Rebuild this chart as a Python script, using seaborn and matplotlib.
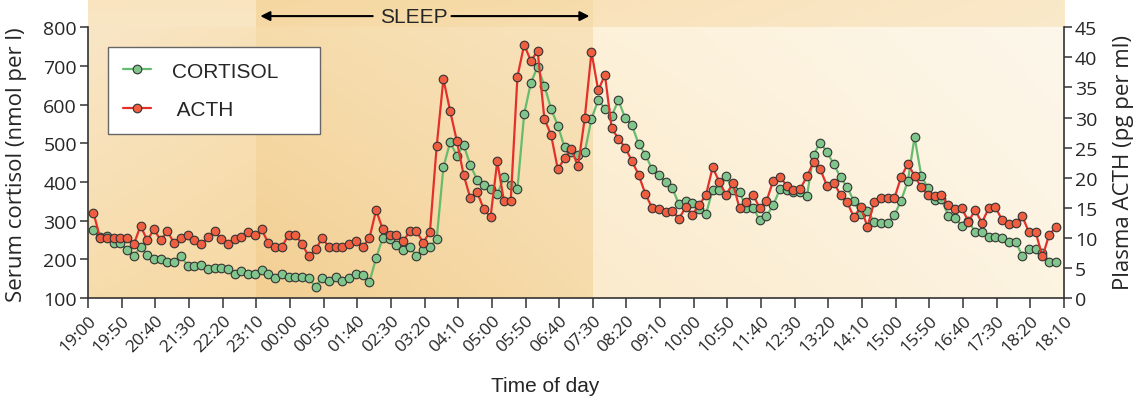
import numpy as np
import pandas as pd
import matplotlib
matplotlib.use("Agg")
import matplotlib.pyplot as plt
import seaborn as sns
from matplotlib.colors import to_rgb
from matplotlib.lines import Line2D

# samples every 10 min, minutes after 19:00
sample_min = 8 + 10 * np.arange(144)

cortisol = [277, 258, 261, 242, 241, 225, 209, 232, 212, 201,
            200, 192, 194, 209, 184, 184, 185, 175, 178, 178,
            176, 162, 171, 161, 163, 173, 163, 152, 163, 154,
            154, 154, 151, 129, 153, 144, 154, 144, 153, 162,
            160, 141, 203, 256, 252, 238, 223, 231, 209, 225,
            233, 252, 438, 503, 468, 496, 444, 406, 393, 381,
            368, 413, 392, 382, 576, 657, 698, 649, 589, 546,
            490, 477, 470, 477, 563, 612, 589, 570, 612, 565,
            547, 499, 471, 433, 419, 399, 385, 342, 352, 345,
            330, 316, 380, 380, 415, 380, 375, 332, 334, 302,
            312, 340, 382, 380, 373, 374, 363, 471, 502, 477,
            446, 412, 386, 350, 317, 326, 297, 295, 294, 314,
            352, 402, 516, 416, 384, 354, 355, 313, 308, 287,
            299, 271, 271, 259, 259, 256, 246, 246, 209, 226,
            226, 217, 194, 192]

acth = [14.2, 10.0, 10.0, 10.0, 10.0, 10.0, 8.9, 12.0, 9.6, 11.4,
        9.6, 11.1, 9.1, 10.0, 10.5, 9.7, 8.9, 10.1, 11.1, 9.8,
        8.9, 9.8, 10.1, 10.9, 10.4, 11.4, 9.1, 8.5, 8.5, 10.5,
        10.5, 9.0, 6.9, 8.1, 9.9, 8.5, 8.4, 8.4, 9.0, 9.5,
        8.5, 9.9, 14.6, 11.4, 10.5, 10.5, 9.4, 11.1, 11.1, 9.2,
        11.0, 25.2, 36.4, 31.1, 26.1, 20.5, 16.6, 17.6, 14.8, 13.4,
        22.7, 16.1, 16.1, 36.8, 42.1, 39.4, 41.1, 29.8, 27.1, 21.4,
        23.2, 24.7, 21.9, 29.9, 40.9, 34.5, 37.1, 28.2, 26.5, 25.0,
        22.8, 20.5, 17.3, 15.0, 14.8, 14.3, 14.5, 13.2, 15.1, 13.8,
        15.5, 17.1, 21.7, 19.3, 17.1, 19.1, 14.9, 16.0, 17.2, 14.9,
        16.1, 19.5, 20.1, 18.7, 18.0, 18.1, 20.2, 22.6, 21.4, 18.6,
        19.2, 17.1, 15.9, 13.4, 15.2, 11.8, 16.0, 16.6, 16.6, 16.6,
        20.1, 22.3, 20.3, 18.4, 17.1, 17.0, 17.1, 15.4, 14.8, 15.0,
        12.7, 14.6, 12.5, 14.9, 15.1, 13.0, 12.3, 12.4, 13.6, 10.9,
        10.9, 6.9, 10.5, 11.8]

tick_labels = ["19:00", "19:50", "20:40", "21:30", "22:20", "23:10", "00:00",
               "00:50", "01:40", "02:30", "03:20", "04:10", "05:00", "05:50",
               "06:40", "07:30", "08:20", "09:10", "10:00", "10:50", "11:40",
               "12:30", "13:20", "14:10", "15:00", "15:50", "16:40", "17:30",
               "18:20", "18:10"]
tick_min = np.arange(len(tick_labels)) * 50

sleep_start, sleep_end = 250, 750   # 23:10 -> 07:30

df = pd.DataFrame({"t": sample_min, "cortisol": cortisol, "acth": acth})

GREEN_LINE, GREEN_FACE = "#66bb6f", "#80c68c"
RED_LINE, RED_FACE = "#e3302a", "#ef5e40"
EDGE = "#333333"

sns.set_style("ticks")
plt.rcParams["font.family"] = ["Open Sans", "DejaVu Sans"]

fig = plt.figure(figsize=(11.4, 4.02), dpi=100)
ax = fig.add_axes([88 / 1140, 103 / 402, 976 / 1140, 299 / 402])

Y_TOP = 100 + 299 * 700 / 270.7


def panel(x0, x1, y0, y1, tl, tr, bl, br):
    u = np.linspace(0, 1, 64)[None, :, None]
    v = np.linspace(0, 1, 64)[:, None, None]
    tl, tr, bl, br = [np.array(to_rgb(c)) for c in (tl, tr, bl, br)]
    img = (tl * (1 - u) + tr * u) * (1 - v) + (bl * (1 - u) + br * u) * v
    ax.imshow(img, extent=(x0, x1, y0, y1), origin="upper", aspect="auto",
              interpolation="bilinear", zorder=0)


# background shading
panel(0, sleep_start, 100, 800, "#f9e6c6", "#f8e2ba", "#f7dcab", "#f6d8a3")
panel(sleep_start, sleep_end, 100, 800, "#f6dcab", "#f8e3bd", "#f3cf93", "#f6dbab")
panel(sleep_end, 1450, 100, 800, "#fdf1d9", "#fdf7eb", "#fbebcd", "#fcf3e1")
panel(0, sleep_start, 800, Y_TOP, "#f9e4bf", "#f9e4bf", "#f9e6c4", "#f9e6c4")
panel(sleep_start, sleep_end, 800, Y_TOP, "#f5d7a0", "#f6dcaa", "#f6d9a5", "#f7ddae")
panel(sleep_end, 1450, 800, Y_TOP, "#f9e2ba", "#fae8c8", "#f9e3bd", "#fae9ca")

sns.lineplot(data=df, x="t", y="cortisol", ax=ax, color=GREEN_LINE, lw=1.6,
             marker="o", markersize=6.2, markerfacecolor=GREEN_FACE,
             markeredgecolor=EDGE, markeredgewidth=0.8, zorder=3, legend=False)

ax.set_xlim(0, 1450)
ax.set_ylim(100, Y_TOP)
ax.set_xticks(tick_min)
ax.set_xticklabels(tick_labels, rotation=45, ha="right", rotation_mode="anchor",
                   fontsize=12.5)
ax.set_yticks(range(100, 801, 100))
ax.tick_params(axis="y", labelsize=14, length=6, width=1.1, color=EDGE, pad=2)
ax.tick_params(axis="x", length=7, width=1.1, color=EDGE, pad=3)
ax.spines["top"].set_visible(False)
ax.spines["right"].set_visible(False)
ax.spines["left"].set_bounds(100, 800)
for s in ("left", "bottom"):
    ax.spines[s].set_color(EDGE)
    ax.spines[s].set_linewidth(1.2)
ax.set_ylabel("Serum cortisol (nmol per l)", fontsize=16)
ax.yaxis.set_label_coords(-0.063, 0.45)
ax.set_xlabel("Time of day", fontsize=15, family=["Liberation Sans", "DejaVu Sans"])
ax.xaxis.set_label_coords(0.468, -0.26)

ax2 = ax.twinx()
sns.lineplot(data=df, x="t", y="acth", ax=ax2, color=RED_LINE, lw=1.6,
             marker="o", markersize=6.2, markerfacecolor=RED_FACE,
             markeredgecolor=EDGE, markeredgewidth=0.8, zorder=3, legend=False)
ax2.set_ylim(0, 45 * (Y_TOP - 100) / 700)
ax2.set_yticks(range(0, 46, 5))
ax2.tick_params(axis="y", labelsize=14, length=6, width=1.1, color=EDGE, pad=2)
for s in ("top", "left", "bottom"):
    ax2.spines[s].set_visible(False)
ax2.spines["right"].set_bounds(0, 45)
ax2.spines["right"].set_color(EDGE)
ax2.spines["right"].set_linewidth(1.2)
ax2.set_ylabel("Plasma ACTH (pg per ml)", fontsize=16)
ax2.yaxis.set_label_coords(1.050, 0.455)

# sleep arrow in the top strip
y_arrow = 829
arrow_kw = dict(arrowstyle="-|>", color="black", lw=1.5, mutation_scale=14,
                shrinkA=0, shrinkB=0)
ax.annotate("", xy=(256, y_arrow), xytext=(423, y_arrow), arrowprops=arrow_kw)
ax.annotate("", xy=(745, y_arrow), xytext=(540, y_arrow), arrowprops=arrow_kw)
ax.text(484, y_arrow, "SLEEP", ha="center", va="center", fontsize=15,
        family=["Liberation Sans", "DejaVu Sans"])

handles = [
    Line2D([], [], color=GREEN_LINE, lw=1.6, marker="o", markersize=6.2,
           markerfacecolor=GREEN_FACE, markeredgecolor=EDGE, markeredgewidth=0.8),
    Line2D([], [], color=RED_LINE, lw=1.6, marker="o", markersize=6.2,
           markerfacecolor=RED_FACE, markeredgecolor=EDGE, markeredgewidth=0.8),
]
leg = ax2.legend(handles, ["CORTISOL", " ACTH"], loc="upper left",
                 bbox_to_anchor=(108 / 1140, 1 - 131 / 402, 212 / 1140, 83 / 402),
                 bbox_transform=fig.transFigure, mode="expand", borderaxespad=0,
                 fancybox=False, framealpha=1, edgecolor="#666666",
                 handlelength=1.35, handletextpad=1.0, labelspacing=0.95,
                 borderpad=0.7, prop={"family": ["Liberation Sans", "DejaVu Sans"],
                                      "size": 15})
leg.get_frame().set_linewidth(1.0)

fig.savefig("out.png", dpi=100)
